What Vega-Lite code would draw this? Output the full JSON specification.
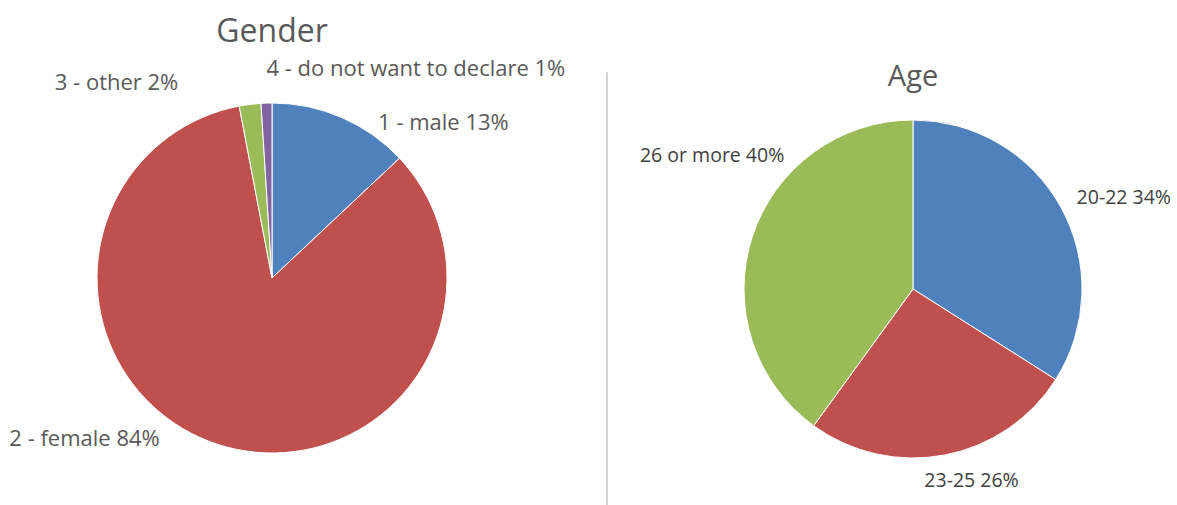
{
  "$schema": "https://vega.github.io/schema/vega-lite/v6.json",
  "padding": {"top": 16, "left": 0, "right": 0, "bottom": 0},
  "background": "white",
  "config": {
    "view": {"stroke": null},
    "font": "Open Sans",
    "title": {"font": "Open Sans", "color": "#595959", "fontWeight": "normal", "anchor": "middle"}
  },
  "datasets": {
    "gender": [
      {"category": "1 - male", "value": 13, "order": 1, "label": "1 - male 13%"},
      {"category": "2 - female", "value": 84, "order": 2, "label": "2 - female 84%"},
      {"category": "3 - other", "value": 2, "order": 3, "label": "3 - other 2%"},
      {"category": "4 - do not want to declare", "value": 1, "order": 4, "label": "4 - do not want to declare 1%"}
    ],
    "age": [
      {"category": "20-22", "value": 34, "order": 1, "label": "20-22 34%"},
      {"category": "23-25", "value": 26, "order": 2, "label": "23-25 26%"},
      {"category": "26 or more", "value": 40, "order": 3, "label": "26 or more 40%"}
    ]
  },
  "hconcat": [
    {
      "width": 544,
      "height": 412,
      "title": {"text": "Gender", "fontSize": 32, "offset": 9},
      "data": {"name": "gender"},
      "encoding": {
        "theta": {"field": "value", "type": "quantitative", "stack": true},
        "order": {"field": "order", "type": "quantitative", "sort": "ascending"}
      },
      "layer": [
        {
          "mark": {"type": "arc", "radius": 175, "stroke": "white", "strokeWidth": 1},
          "encoding": {
            "color": {
              "field": "category", "type": "nominal", "legend": null,
              "scale": {"domain": ["1 - male", "2 - female", "3 - other", "4 - do not want to declare"], "range": ["#4F81BD", "#C0504D", "#9BBB59", "#8064A2"]}
            }
          }
        },
        {
          "mark": {"type": "text", "radius": 169, "align": "left", "baseline": "middle", "dx": 39, "fontSize": 22, "color": "#595959"},
          "encoding": {"text": {"condition": {"test": "datum.order === 1", "field": "label"}, "value": ""}}
        },
        {
          "mark": {"type": "text", "radius": 169, "align": "right", "baseline": "middle", "dx": -60, "fontSize": 22, "color": "#595959"},
          "encoding": {"text": {"condition": {"test": "datum.order === 2", "field": "label"}, "value": ""}}
        },
        {
          "mark": {"type": "text", "radius": 197, "align": "right", "baseline": "middle", "dx": -69, "fontSize": 22, "color": "#595959"},
          "encoding": {"text": {"condition": {"test": "datum.order === 3", "field": "label"}, "value": ""}}
        },
        {
          "mark": {"type": "text", "radius": 209, "align": "left", "baseline": "middle", "dx": 1, "fontSize": 22, "color": "#595959"},
          "encoding": {"text": {"condition": {"test": "datum.order === 4", "field": "label"}, "value": ""}}
        }
      ]
    },
    {
      "width": 1,
      "height": 436,
      "view": {"stroke": "#d4d4d4", "strokeWidth": 1},
      "data": {"values": [{"a": 1}]},
      "mark": {"type": "point", "opacity": 0}
    },
    {
      "width": 488,
      "height": 434,
      "title": {"text": "Age", "fontSize": 29, "offset": -20},
      "data": {"name": "age"},
      "encoding": {
        "theta": {"field": "value", "type": "quantitative", "stack": true},
        "order": {"field": "order", "type": "quantitative", "sort": "ascending"}
      },
      "layer": [
        {
          "mark": {"type": "arc", "radius": 169, "stroke": "white", "strokeWidth": 1},
          "encoding": {
            "color": {
              "field": "category", "type": "nominal", "legend": null,
              "scale": {"domain": ["20-22", "23-25", "26 or more"], "range": ["#4F81BD", "#C0504D", "#9BBB59"]}
            }
          }
        },
        {
          "mark": {"type": "text", "radius": 189, "align": "left", "baseline": "middle", "dx": -2, "fontSize": 19.5, "color": "#404040"},
          "encoding": {"text": {"condition": {"test": "datum.order === 1", "field": "label"}, "value": ""}}
        },
        {
          "mark": {"type": "text", "radius": 195, "align": "center", "baseline": "middle", "dx": 22, "fontSize": 19.5, "color": "#404040"},
          "encoding": {"text": {"condition": {"test": "datum.order === 2", "field": "label"}, "value": ""}}
        },
        {
          "mark": {"type": "text", "radius": 190, "align": "right", "baseline": "middle", "dx": 52, "dy": -74, "fontSize": 19.5, "color": "#404040"},
          "encoding": {"text": {"condition": {"test": "datum.order === 3", "field": "label"}, "value": ""}}
        }
      ]
    }
  ],
  "spacing": 62,
  "bounds": "flush"
}
